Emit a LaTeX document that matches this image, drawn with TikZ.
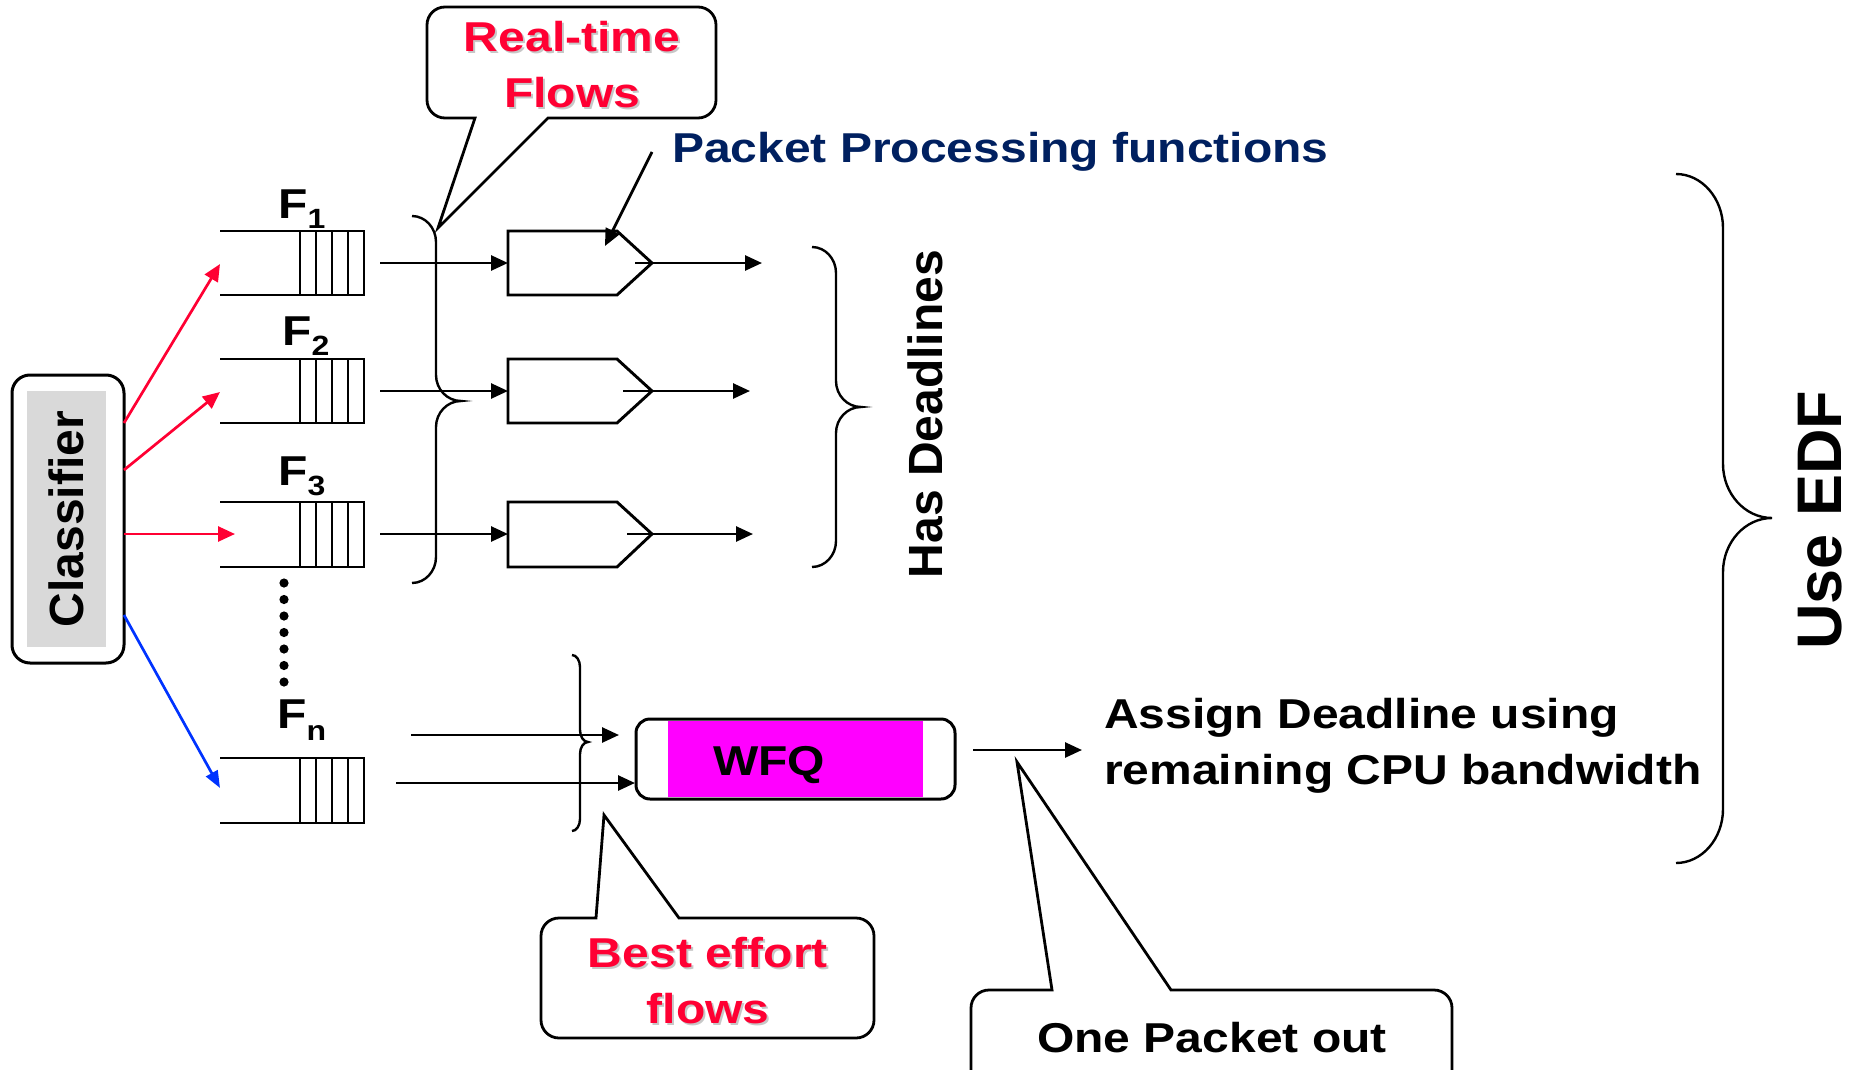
\documentclass[tikz,border=0pt]{standalone}
\usepackage{fontspec}
\setmainfont{Liberation Sans}
\usetikzlibrary{arrows.meta}
\definecolor{rtred}{RGB}{255,0,51}
\definecolor{navyblue}{RGB}{0,32,96}
\definecolor{clsgray}{RGB}{217,217,217}
\definecolor{arrblue}{RGB}{0,51,255}
\definecolor{wfqmag}{RGB}{255,0,255}
\newcommand{\sqz}[1]{\scalebox{1}[0.87]{#1}}
\newcommand{\subtxtfont}{\fontsize{32}{32}\selectfont}
% brace: x0, xv, xt, ytop, ymid, ybot, r
\newcommand{\cbrace}[7]{%
  \draw[bracestyle] (#1,#4) .. controls ({#1+0.55*(#2-#1)},#4) and (#2,{#4+0.45*#7}) .. (#2,{#4+#7})
   -- (#2,{#5-#7}) .. controls (#2,{#5-0.45*#7}) and ({#3-0.55*(#3-#2)},#5) .. (#3,#5)
   .. controls ({#3-0.55*(#3-#2)},#5) and (#2,{#5+0.45*#7}) .. (#2,{#5+#7})
   -- (#2,{#6-#7}) .. controls (#2,{#6-0.45*#7}) and ({#1+0.55*(#2-#1)},#6) .. (#1,#6);}
\newcommand{\flowqueue}[2]{%
  \draw[qline] (220,#1) -- (364,#1) -- (364,#2) -- (220,#2);
  \foreach \xx in {300,316,332,348} \draw[qline] (\xx,#1) -- (\xx,#2);}
\newcommand{\ppfunc}[3]{%
  \draw[qline] (508,#1) -- (617,#1) -- (652,#2) -- (617,#3) -- (508,#3) -- cycle;}
\begin{document}
\begin{tikzpicture}[x=1pt,y=-1pt,
  txt/.style={font=\fontsize{48}{56}\selectfont\bfseries, inner sep=0pt},
  qline/.style={line width=2.9pt, line join=miter},
  bracestyle/.style={line width=2.4pt},
  callout/.style={line width=2.8pt, line join=miter, fill=white},
  arr/.style={line width=2.7pt, -{Triangle[length=17pt,width=15pt]}},
  redarr/.style={line width=2.7pt, draw=rtred, -{Triangle[length=17pt,width=15pt]}},
  bluearr/.style={line width=2.7pt, draw=arrblue, -{Triangle[length=17pt,width=13pt]}},
  shadowtxt/.style={text=black!22}]
\useasboundingbox (0,0) rectangle (1860,1070);

% ---------- Classifier ----------
\node[draw, line width=3pt, rounded corners=18pt, minimum width=112pt,
      minimum height=288pt, inner sep=0pt] (clsframe) at (68,519) {};
\node[txt, fill=clsgray, rotate=90, minimum width=256pt, minimum height=79pt]
      (cls) at (66.5,519) {Classifier};

% ---------- queues ----------
\flowqueue{231}{295}
\flowqueue{359}{423}
\flowqueue{502}{567}
\flowqueue{758}{823}
\node[txt, anchor=base west] (f1) at (278,218) {\sqz{F}\raisebox{-10pt}{\subtxtfont\sqz{1}}};
\node[txt, anchor=base west] (f2) at (282,345) {\sqz{F}\raisebox{-10pt}{\subtxtfont\sqz{2}}};
\node[txt, anchor=base west] (f3) at (278,485) {\sqz{F}\raisebox{-10pt}{\subtxtfont\sqz{3}}};
\node[txt, anchor=base west] (fn) at (277,728) {\sqz{F}\raisebox{-12pt}{\subtxtfont\sqz{n}}};
\foreach \yy in {583,599.5,616,632.5,649,665.5,682}
  \fill (284,\yy) circle (4.6pt);

% classifier -> queues
\coordinate (c1) at (124,423); \coordinate (q1in) at (220,264);
\coordinate (c2) at (124,470); \coordinate (q2in) at (220,392);
\coordinate (c3) at (124,534); \coordinate (q3in) at (235,534);
\coordinate (c4) at (124,615); \coordinate (qnin) at (220,788);
\draw[redarr] (c1) -- (q1in);
\draw[redarr] (c2) -- (q2in);
\draw[redarr] (c3) -- (q3in);
\draw[bluearr] (c4) -- (qnin);

% ---------- packet processing functions ----------
\ppfunc{231}{263}{295}
\ppfunc{359}{391}{423}
\ppfunc{502}{534}{567}
\coordinate (q1o) at (380,263); \coordinate (p1i) at (508,263);
\coordinate (q2o) at (380,391); \coordinate (p2i) at (508,391);
\coordinate (q3o) at (380,534); \coordinate (p3i) at (508,534);
\draw[arr] (q1o) -- (p1i);
\draw[arr] (q2o) -- (p2i);
\draw[arr] (q3o) -- (p3i);
\coordinate (p1o) at (635,263); \coordinate (e1) at (762,263);
\coordinate (p2o) at (623,391); \coordinate (e2) at (750,391);
\coordinate (p3o) at (627,534); \coordinate (e3) at (753,534);
\draw[arr] (p1o) -- (e1);
\draw[arr] (p2o) -- (e2);
\draw[arr] (p3o) -- (e3);

% braces
\cbrace{412}{436}{461}{216}{401}{583}{26}
\cbrace{812}{836}{861}{247}{407}{567}{26}
\cbrace{572}{580}{588}{655}{742}{831}{12}
\cbrace{1676}{1723}{1772}{174}{518}{863}{54}

% Packet Processing label and pointer
\node[txt, text=navyblue, anchor=base west] (ppf) at (672,162) {\sqz{Packet Processing functions}};
\coordinate (ppfs) at (652,152); \coordinate (ppft) at (605,246);
\draw[arr] (ppfs) -- (ppft);

\node[txt, rotate=90] (hasdl) at (925,414) {Has Deadlines};

% ---------- Real-time callout ----------
\draw[callout] (475,118) -- (438,228) -- (548,118) -- (698,118)
  .. controls (708,118) and (716,110) .. (716,100)
  -- (716,25) .. controls (716,15) and (708,7) .. (698,7)
  -- (445,7) .. controls (435,7) and (427,15) .. (427,25)
  -- (427,100) .. controls (427,110) and (435,118) .. (445,118) -- cycle;
\node[txt, shadowtxt, align=center] at (574,67) {\sqz{Real-time}\\\sqz{Flows}};
\node[txt, text=rtred, align=center] (rtl) at (572,65) {\sqz{Real-time}\\\sqz{Flows}};

% ---------- Best effort ----------
\coordinate (fa1) at (411,735); \coordinate (wa1) at (619,735);
\coordinate (fa2) at (396,783); \coordinate (wa2) at (635,783);
\draw[arr] (fa1) -- (wa1);
\draw[arr] (fa2) -- (wa2);

\fill[wfqmag] (668,721) rectangle (923,797);
\node[draw, line width=3pt, rounded corners=14pt, minimum width=319pt,
      minimum height=80pt, inner sep=0pt] (wfqbox) at (795.5,759) {};
\node[txt, anchor=base] (wfq) at (769,775) {\sqz{WFQ}};

\draw[callout] (596,918) -- (604,815) -- (679,918) -- (856,918)
  .. controls (866,918) and (874,926) .. (874,936)
  -- (874,1020) .. controls (874,1030) and (866,1038) .. (856,1038)
  -- (559,1038) .. controls (549,1038) and (541,1030) .. (541,1020)
  -- (541,936) .. controls (541,926) and (549,918) .. (559,918) -- cycle;
\node[txt, shadowtxt, align=center] at (710,983) {\sqz{Best effort}\\\sqz{flows}};
\node[txt, text=rtred, align=center] (bel) at (708,981) {\sqz{Best effort}\\\sqz{flows}};

% ---------- output ----------
\coordinate (wo) at (973,750); \coordinate (asgin) at (1082,750);
\draw[arr] (wo) -- (asgin);
\node[txt, align=left, anchor=west] (asg) at (1104,746)
  {\sqz{Assign Deadline using}\\\sqz{remaining CPU bandwidth}};

\draw[callout] (1052,990) -- (1017,762) -- (1171,990) -- (1434,990)
  .. controls (1444,990) and (1452,998) .. (1452,1008)
  -- (1452,1090) -- (971,1090) -- (971,1008)
  .. controls (971,998) and (979,990) .. (989,990) -- cycle;
\node[txt, anchor=base] (opo) at (1212,1052) {\sqz{One Packet out}};

\node[txt, font=\fontsize{63}{70}\selectfont\bfseries, rotate=90] (edf) at (1820,520) {Use EDF};
\end{tikzpicture}
\end{document}
